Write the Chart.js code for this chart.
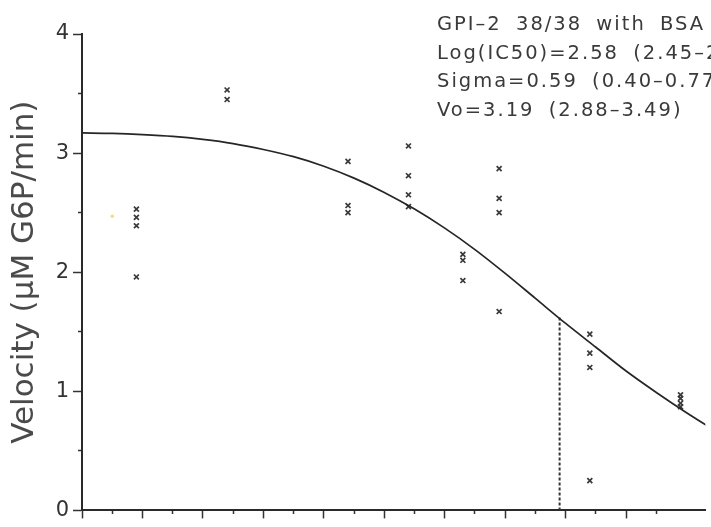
<!DOCTYPE html>
<html lang="en">
<head>
  <meta charset="UTF-8">
  <title>GPI-2 38/38 with BSA</title>
  <script src="https://cdn.jsdelivr.net/npm/chart.js"></script>
  <style>
    * { margin: 0; padding: 0; box-sizing: border-box; }
    body { background: #ffffff; }
    .wrap { width: 711px; height: 527px; position: relative; }
  </style>
</head>
<body>
  <div class="wrap"><canvas id="chart"></canvas></div>
  <script>
    // fitted curve (x = log concentration)
    const curveX = [1.0, 1.1, 1.2, 1.3, 1.4, 1.5, 1.6, 1.7, 1.8, 1.9, 2.0, 2.1, 2.2, 2.3, 2.4, 2.5, 2.6, 2.7, 2.8, 2.9, 3.0, 3.1];
    const curveV = [3.17, 3.165, 3.155, 3.14, 3.115, 3.08, 3.03, 2.97, 2.89, 2.79, 2.67, 2.53, 2.37, 2.19, 1.99, 1.78, 1.57, 1.37, 1.17, 0.99, 0.82, 0.66];

    // measured velocities, one list per concentration
    const doseLog = [1.18, 1.48, 1.88, 2.08, 2.26, 2.38, 2.68, 2.98];
    const velocities = [
      [2.53, 2.46, 2.39, 1.96],
      [3.53, 3.45],
      [2.93, 2.56, 2.50],
      [3.06, 2.81, 2.65, 2.55],
      [2.15, 2.10, 1.93],
      [2.87, 2.62, 2.50, 1.67],
      [1.48, 1.32, 1.20, 0.25],
      [0.97, 0.94, 0.90, 0.87]
    ];

    // IC50 drop line
    const logIC50 = 2.58;
    const ic50Span = [0, 1.62];

    // stray yellow speck on the scan
    const speck = [{ x: 1.10, y: 2.47 }];

    const notes = [
      'GPI\u20132 38/38 with BSA',
      'Log(IC50)=2.58 (2.45\u20132',
      'Sigma=0.59 (0.40\u20130.77',
      'Vo=3.19 (2.88\u20133.49)'
    ];

    const curvePts = curveX.map((x, i) => ({ x, y: curveV[i] }));
    const obsPts = [];
    doseLog.forEach((x, i) => velocities[i].forEach(v => obsPts.push({ x, y: v })));
    const icPts = ic50Span.map(v => ({ x: logIC50, y: v }));

    const notesPlugin = {
      id: 'notes',
      afterDraw(chart) {
        const ctx = chart.ctx;
        ctx.save();
        ctx.font = '19.5px "DejaVu Sans"';
        ctx.fillStyle = '#3a3a3a';
        ctx.textBaseline = 'alphabetic';
        ctx.letterSpacing = '2px';
        ctx.wordSpacing = '6px';
        notes.forEach((t, i) => ctx.fillText(t, 437, 30 + i * 28.5));
        ctx.restore();
      }
    };

    const isMinor = (v, step) => Math.round(v / step) % 2 !== 0;

    new Chart(document.getElementById('chart'), {
      type: 'scatter',
      data: {
        datasets: [
          {
            type: 'line', label: 'Fit', data: curvePts,
            borderColor: '#262626', borderWidth: 1.7, pointRadius: 0,
            cubicInterpolationMode: 'monotone', fill: false
          },
          {
            type: 'line', label: 'IC50', data: icPts,
            borderColor: '#333333', borderWidth: 2, borderDash: [3, 2],
            pointRadius: 0, fill: false
          },
          {
            label: 'Velocity', data: obsPts,
            pointStyle: 'crossRot', pointRadius: 3.5, borderWidth: 1.7,
            borderColor: '#3a3a3a', backgroundColor: '#3a3a3a'
          },
          {
            label: 'speck', data: speck,
            pointStyle: 'circle', pointRadius: 1.8, borderWidth: 0,
            backgroundColor: '#f1de78'
          }
        ]
      },
      options: {
        animation: false,
        responsive: true,
        maintainAspectRatio: false,
        layout: { padding: { top: 34, right: 0, bottom: 0, left: 0 } },
        plugins: { legend: { display: false }, tooltip: { enabled: false } },
        scales: {
          x: {
            type: 'linear', min: 1, max: 3.062,
            border: { color: '#2a2a2a', width: 2 },
            grid: {
              drawOnChartArea: false, drawTicks: true, tickLength: 8,
              tickColor: '#333333', tickWidth: 1.5,
              tickBorderDash: c => (c.tick && isMinor(c.tick.value, 0.1)) ? [3, 20] : []
            },
            ticks: { display: false, stepSize: 0.1 },
            afterBuildTicks: s => {
              s.ticks = s.ticks.filter(t => Math.abs(t.value * 10 - Math.round(t.value * 10)) < 1e-6);
            }
          },
          y: {
            min: 0, max: 4,
            afterFit: s => { s.width = 82; },
            border: { color: '#2a2a2a', width: 2 },
            grid: {
              drawOnChartArea: false, drawTicks: true, tickLength: 9,
              tickColor: '#333333', tickWidth: 1.5,
              tickBorderDash: c => (c.tick && isMinor(c.tick.value, 0.5)) ? [0, 5, 3, 0] : []
            },
            ticks: {
              stepSize: 0.5, padding: 4, color: '#333333',
              font: { family: 'DejaVu Sans', size: 21 },
              callback: v => Number.isInteger(v) ? String(v) : ''
            },
            title: {
              display: true, text: 'Velocity (\u03BCM G6P/min)', color: '#4a4a4a',
              font: { family: 'DejaVu Sans', size: 31 },
              padding: { top: 6, bottom: 0 }
            }
          }
        }
      },
      plugins: [notesPlugin]
    });
  </script>
</body>
</html>
